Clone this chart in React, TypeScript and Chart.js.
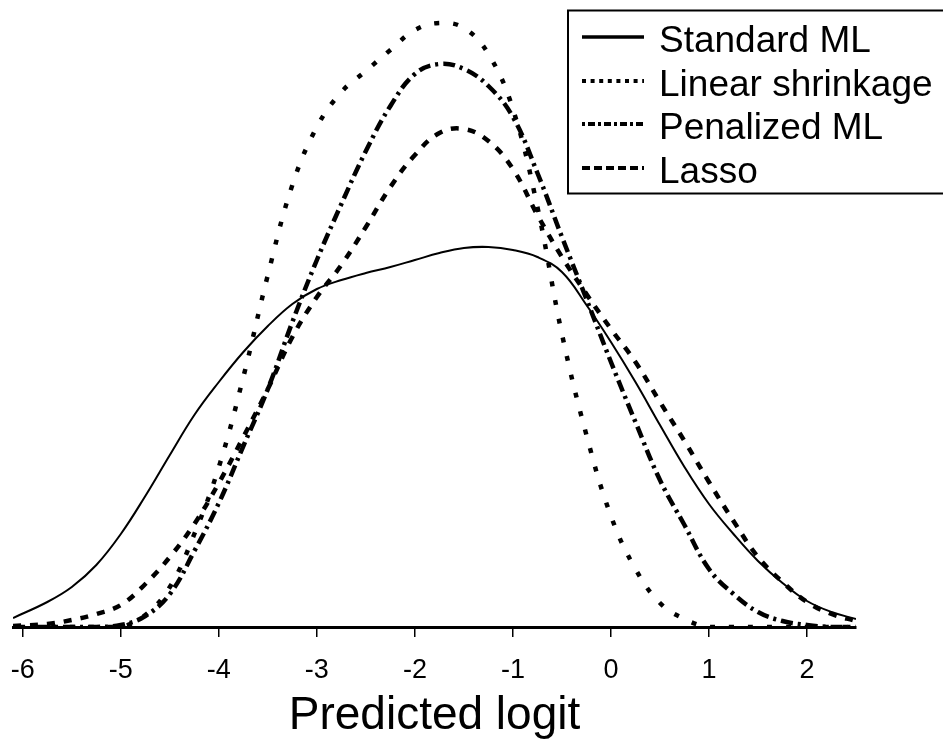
import React, { useEffect, useRef } from "react";
import { Chart, registerables } from "chart.js";

Chart.register(...registerables);

// Predicted logit grid
const xValues = [
  -6.1, -5.75, -5.5, -5.25, -5, -4.75, -4.5, -4.25, -4, -3.75, -3.5, -3.25, -3,
  -2.75, -2.5, -2.25, -2, -1.75, -1.5, -1.25, -1, -0.75, -0.5, -0.25, 0, 0.25,
  0.5, 0.75, 1, 1.25, 1.5, 1.75, 2, 2.25, 2.5,
];

// Density estimates (arbitrary units)
const standardML = [
  0.009, 0.025, 0.04, 0.062, 0.093, 0.131, 0.172, 0.212, 0.245, 0.275, 0.301,
  0.323, 0.338, 0.347, 0.354, 0.36, 0.367, 0.374, 0.379, 0.38, 0.377, 0.37,
  0.355, 0.322, 0.285, 0.245, 0.202, 0.16, 0.123, 0.093, 0.066, 0.044, 0.026,
  0.015, 0.008,
];

const linearShrinkage = [
  0, 0, 0, 0, 0, 0.012, 0.04, 0.093, 0.16, 0.25, 0.352, 0.442, 0.5, 0.535,
  0.556, 0.577, 0.597, 0.604, 0.599, 0.573, 0.518, 0.42, 0.293, 0.192, 0.111,
  0.058, 0.024, 0.008, 0, 0, 0, 0, 0, 0, 0,
];

const penalizedML = [
  0, 0, 0, 0, 0.002, 0.011, 0.033, 0.076, 0.124, 0.181, 0.238, 0.305, 0.367,
  0.423, 0.476, 0.521, 0.553, 0.563, 0.558, 0.541, 0.51, 0.454, 0.39, 0.328,
  0.265, 0.205, 0.147, 0.102, 0.058, 0.033, 0.015, 0.006, 0.002, 0, 0,
];

const lasso = [
  0.001, 0.003, 0.007, 0.013, 0.022, 0.043, 0.07, 0.103, 0.144, 0.19, 0.238,
  0.29, 0.33, 0.362, 0.4, 0.44, 0.472, 0.494, 0.498, 0.486, 0.458, 0.412, 0.37,
  0.333, 0.298, 0.265, 0.225, 0.186, 0.145, 0.106, 0.07, 0.045, 0.025, 0.013,
  0.006,
];

const seriesLabels = ["Standard ML", "Linear shrinkage", "Penalized ML", "Lasso"];
const seriesValues = [standardML, linearShrinkage, penalizedML, lasso];
const xAxisTitle = "Predicted logit";

const FONT = "'Liberation Sans', Arial, Helvetica, sans-serif";

const plotStyles = [
  { dash: [] as number[], width: 2 },
  { dash: [5, 14], width: 4.5 },
  { dash: [12, 5, 3, 5], width: 4.5 },
  { dash: [8, 9], width: 4.5 },
];

const legendStyles = [
  { dash: [] as number[], width: 3.5 },
  { dash: [4, 4.6], width: 4 },
  { dash: [3, 3, 7, 3], width: 4 },
  { dash: [8, 4], width: 4 },
];

const legendPlugin = {
  id: "boxLegend",
  afterDraw(chart: any) {
    const ctx = chart.ctx as CanvasRenderingContext2D;
    ctx.save();
    ctx.strokeStyle = "#000";
    ctx.lineWidth = 2;
    ctx.setLineDash([]);
    ctx.strokeRect(568, 10.5, 400, 183);
    const rows = [37, 81, 124, 168];
    seriesLabels.forEach((label, i) => {
      const st = legendStyles[i];
      ctx.beginPath();
      ctx.setLineDash(st.dash);
      ctx.lineWidth = st.width;
      ctx.lineCap = "butt";
      ctx.moveTo(582, rows[i]);
      ctx.lineTo(644, rows[i]);
      ctx.stroke();
      ctx.setLineDash([]);
      ctx.fillStyle = "#000";
      ctx.font = `37px ${FONT}`;
      ctx.textBaseline = "alphabetic";
      ctx.textAlign = "left";
      ctx.fillText(label, 659, rows[i] + 15);
    });
    ctx.restore();
  },
};

export default function App() {
  const ref = useRef<HTMLCanvasElement>(null);

  useEffect(() => {
    if (!ref.current) return;
    const chart = new Chart(ref.current, {
      type: "line",
      data: {
        datasets: seriesLabels.map((label, i) => ({
          label,
          data: xValues.map((x, j) => ({ x, y: seriesValues[i][j] })),
          borderColor: "#000",
          backgroundColor: "#000",
          borderWidth: plotStyles[i].width,
          borderDash: plotStyles[i].dash,
          borderCapStyle: "butt",
          pointRadius: 0,
          tension: 0.4,
          fill: false,
        })),
      },
      options: {
        responsive: false,
        animation: false,
        devicePixelRatio: 1,
        layout: { padding: { left: 13, right: 87, top: 7, bottom: 0 } },
        plugins: {
          legend: { display: false },
          tooltip: { enabled: false },
        },
        scales: {
          x: {
            type: "linear",
            min: -6.1,
            max: 2.5,
            afterFit: (scale: any) => {
              scale.height = 112;
              scale.paddingLeft = 0;
              scale.paddingRight = 0;
            },
            border: { display: true, color: "#000", width: 3 },
            grid: {
              display: true,
              drawOnChartArea: false,
              drawTicks: true,
              tickLength: 10,
              color: "#000",
              lineWidth: 1.5,
            },
            ticks: {
              stepSize: 1,
              includeBounds: false,
              autoSkip: false,
              maxRotation: 0,
              color: "#000",
              padding: 17,
              font: { family: FONT, size: 27 },
              callback: (v: any) => String(v),
            },
            title: {
              display: true,
              text: xAxisTitle,
              color: "#000",
              padding: 0,
              font: { family: FONT, size: 46, lineHeight: 1 },
            },
          },
          y: {
            display: false,
            min: 0,
            max: 0.62,
          },
        },
      },
      plugins: [legendPlugin],
    } as any);
    return () => chart.destroy();
  }, []);

  return (
    <div style={{ position: "absolute", left: 0, top: 0, width: 943, height: 739, background: "#fff" }}>
      <canvas ref={ref} width={943} height={739} style={{ display: "block" }} />
    </div>
  );
}
